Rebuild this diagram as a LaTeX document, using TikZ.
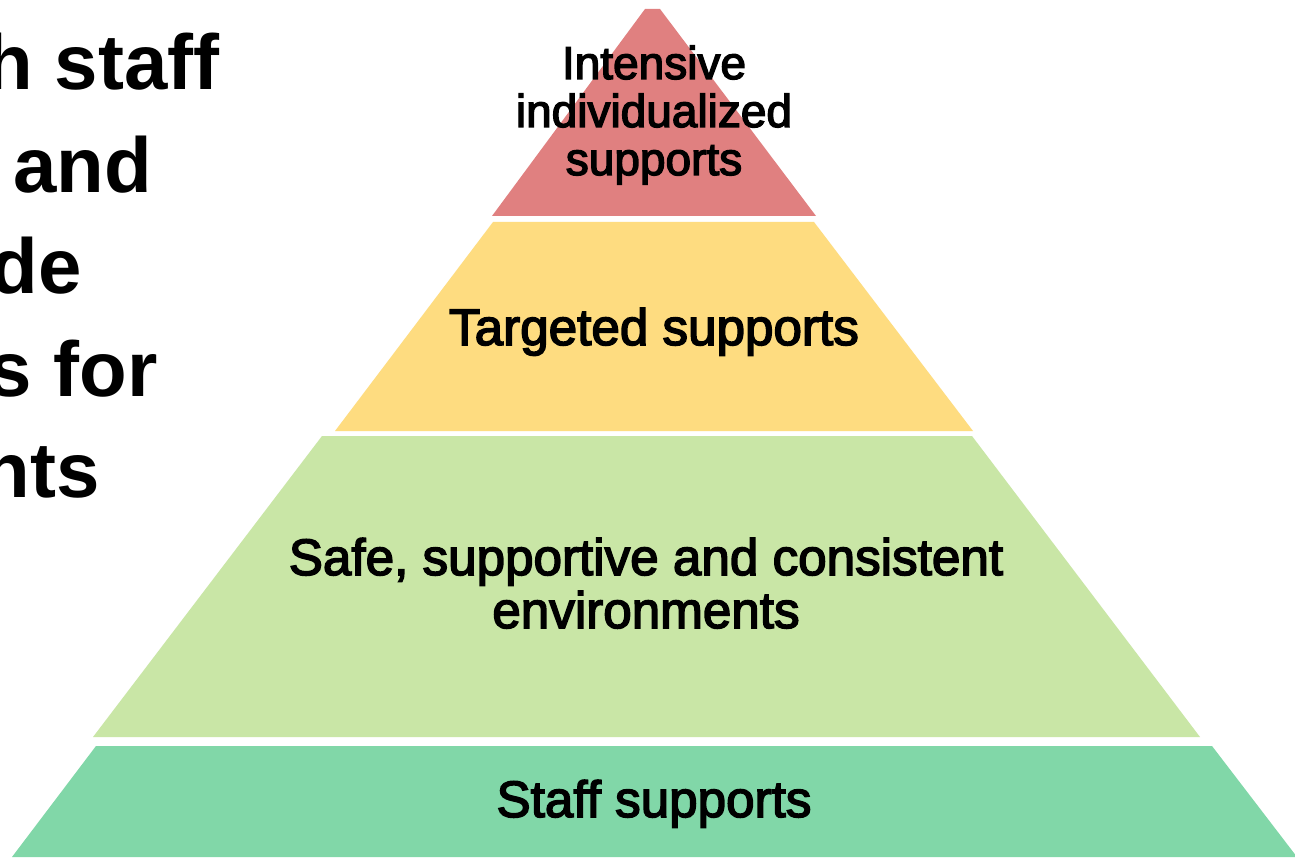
\documentclass[tikz,border=0pt]{standalone}
\usepackage{fontspec}
\setmainfont{Liberation Sans}
\newfontfamily\pyrfont[FakeBold=3]{Liberation Sans}
\newfontfamily\leftfont{Liberation Sans Bold}
\definecolor{tierred}{HTML}{E08080}
\definecolor{tieryellow}{HTML}{FEDC80}
\definecolor{tierlight}{HTML}{C9E6A6}
\definecolor{tiergreen}{HTML}{81D7A8}
\begin{document}
\begin{tikzpicture}[x=0.75pt,y=-0.75pt,
  tiertext/.style={inner sep=0pt,anchor=base,font=\pyrfont\fontsize{38.4}{40}\selectfont},
  toptext/.style={inner sep=0pt,anchor=base,font=\pyrfont\fontsize{34.5}{36}\selectfont},
  sidetext/.style={inner sep=0pt,anchor=base east,font=\leftfont\fontsize{58.5}{62}\selectfont}]
\useasboundingbox (0,0) rectangle (1295,859);
\fill[white] (0,0) rectangle (1295,859);
% tiers
\fill[tierred] (645,9) -- (660,9) -- (816,216) -- (492,216) -- cycle;
\fill[tieryellow] (493,222) -- (814,222) -- (973,431) -- (335,431) -- cycle;
\fill[tierlight] (322,436) -- (972,436) -- (1200,737) -- (93,737) -- cycle;
\fill[tiergreen] (96,746) -- (1212,746) -- (1297,857) -- (12,857) -- cycle;
% tier labels
\node[toptext] (t1a) at (654,79) {Intensive};
\node[toptext] (t1b) at (654,127) {individualized};
\node[toptext] (t1c) at (654,175) {supports};
\node[tiertext] (t2) at (654,345) {Targeted supports};
\node[tiertext] (t3a) at (646,575) {Safe, supportive and consistent};
\node[tiertext] (t3b) at (646,628) {environments};
\node[tiertext] (t4) at (654,817) {Staff supports};
% side text, cut by the left edge as in the reference
\node[sidetext] (s1) at (220,90) {h staff};
\node[sidetext] (s2) at (152,193) {and};
\node[sidetext] (s3) at (82,293) {de};
\node[sidetext] (s4) at (158,396) {s for};
\node[sidetext] (s5) at (100,497) {nts};
\end{tikzpicture}
\end{document}
